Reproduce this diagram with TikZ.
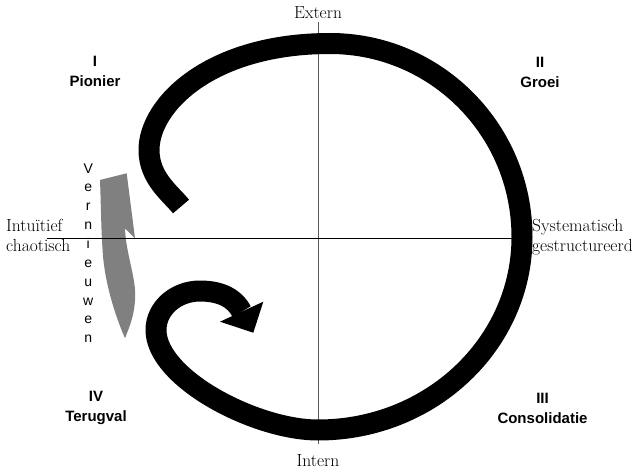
\documentclass[tikz,border=0pt]{standalone}
\usepackage{fontspec}
\newfontfamily\sansfont{Liberation Sans}
\begin{document}
\begin{tikzpicture}[x=1pt,y=-1pt,
  vaxis/.style={line width=0.9pt, draw=black!65},
  haxis/.style={line width=0.9pt, draw=black},
  loopline/.style={line width=21pt, draw=black, line cap=butt, line join=round},
  serif/.style={font=\fontsize{17.5}{19.5}\selectfont, inner sep=0pt},
  quad/.style={font=\sansfont\bfseries\fontsize{15}{20}\selectfont, align=center, inner sep=0pt, anchor=north},
]
\useasboundingbox (0,0) rectangle (635,468);
% grey curved arrow (Vernieuwen)
\fill[gray] (100,180) -- (126.7,173.3) -- (135,238.3) -- (125,228.3)
  .. controls (126,255) and (137,280) .. (135,300)
  .. controls (134,318) and (128,330) .. (125,338.3)
  .. controls (118,322) and (106,290) .. (103,256)
  .. controls (101,230) and (101,205) .. (100,180) -- cycle;
% axes
\coordinate (top) at (318,22);
\coordinate (bot) at (318,444);
\coordinate (lft) at (47,238);
\coordinate (rgt) at (532,238);
\draw[vaxis] (top) -- (bot);
\draw[haxis] (lft) -- (rgt);
% black loop
\draw[loopline] (181,206.5) .. controls (170,193) and (149,178) .. (149,150)
  .. controls (149,105) and (210,43.5) .. (330,43.5)
  .. controls (436,43.5) and (522,130) .. (522,237)
  .. controls (522,343.5) and (431,430) .. (318,430)
  .. controls (255,430) and (156,378) .. (156,330)
  .. controls (156,308.5) and (175.7,291) .. (200,291)
  .. controls (222,291) and (235.4,299.2) .. (241.7,311.7);
\fill[black] (263.3,301.7) -- (253.3,332.7) -- (220,321.7) -- cycle;
% labels
\node[serif, anchor=base] (extern) at (318,19) {Extern};
\node[serif, anchor=base] (intern) at (318,466) {Intern};
\node[serif, anchor=north west, align=left] (intu) at (6,219.5) {Intuïtief\\chaotisch};
\node[serif, anchor=north west, align=left] (syst) at (532,219.5) {Systematisch\\gestructureerd};
\node[quad] (q1) at (95,56) {I\\Pionier};
\node[quad] (q2) at (540,57.3) {II\\Groei};
\node[quad] (q4) at (96,391) {IV\\Terugval};
\node[quad] (q3) at (542.5,392.6) {III\\Consolidatie};
\node[font=\sansfont\fontsize{14}{18.85}\selectfont, align=center, anchor=north, inner sep=0pt] (vern) at (88.3,163.3) {V\\e\\r\\n\\i\\e\\u\\w\\e\\n};
\end{tikzpicture}
\end{document}
